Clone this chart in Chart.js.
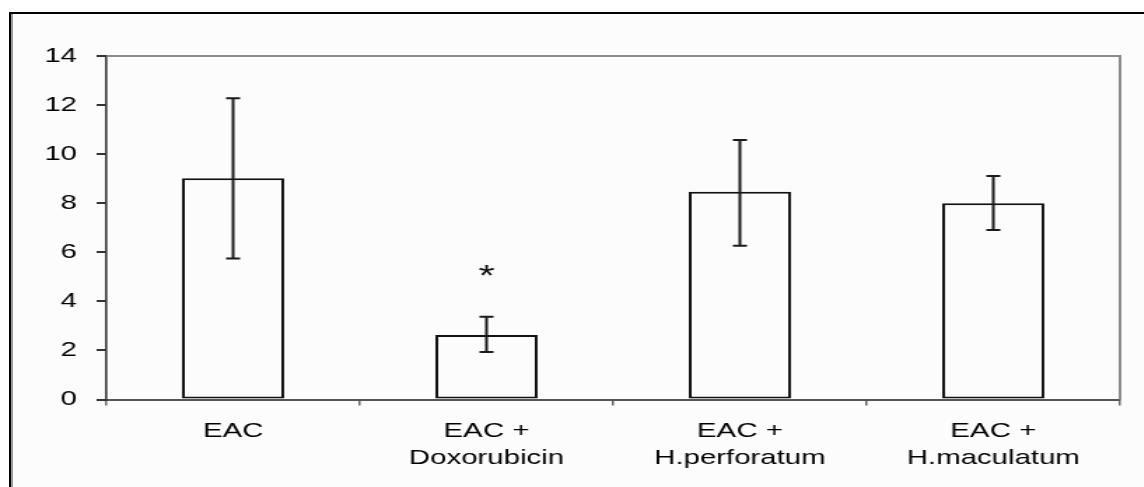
<!DOCTYPE html>
<html>
<head>
<meta charset="utf-8">
<script src="https://cdn.jsdelivr.net/npm/chart.js@4/dist/chart.umd.min.js"></script>
<style>
  html, body { margin: 0; padding: 0; background: #ffffff; width: 1144px; height: 487px; overflow: hidden; }
  .frame { position: absolute; left: 9px; top: 12px; width: 1160px; height: 500px;
           border-top: 2px solid #000; border-left: 2px solid #000; background: #fcfcfc;
           box-shadow: inset 2px 0 0 #9a9a9a; }
  .wrap { position: absolute; left: 0; top: 0; width: 817px; height: 487px;
          transform: scaleX(1.4); transform-origin: 0 0; }
</style>
</head>
<body>
<div class="frame"></div>
<div class="wrap"><canvas id="c" width="817" height="487"></canvas></div>
<script>
// ---- data ----
const categories = [["EAC"], ["EAC +", "Doxorubicin"], ["EAC +", "H.perforatum"], ["EAC +", "H.maculatum"]];
const means      = [9.02, 2.63, 8.47, 8.0];
const errUpper   = [12.28, 3.37, 10.58, 9.11];
const errLower   = [5.75, 1.94, 6.27, 6.91];
const sigMarks   = ["", "*", "", ""];
const sigMarkY   = [null, 4.68, null, null];
const yTicks     = [0, 2, 4, 6, 8, 10, 12, 14];

const FONT = "'Liberation Sans', Arial, sans-serif";

const frameAndErrors = {
  id: 'frameAndErrors',
  beforeDatasetsDraw(chart) {
    const { ctx, chartArea: a } = chart;
    ctx.save();
    ctx.strokeStyle = '#8a8a8a';
    ctx.lineWidth = 2;
    ctx.beginPath();
    ctx.moveTo(a.left, a.top);
    ctx.lineTo(a.right, a.top);
    ctx.lineTo(a.right, a.bottom);
    ctx.stroke();
    ctx.restore();
  },
  afterDatasetsDraw(chart) {
    const { ctx, scales: { x, y } } = chart;
    ctx.save();
    ctx.strokeStyle = '#1a1a1a';
    ctx.lineWidth = 2;
    const cap = 5;
    for (let i = 0; i < means.length; i++) {
      const px = x.getPixelForValue(i);
      const yt = y.getPixelForValue(errUpper[i]);
      const yb = y.getPixelForValue(errLower[i]);
      ctx.beginPath();
      ctx.moveTo(px, yt); ctx.lineTo(px, yb);
      ctx.moveTo(px - cap, yt); ctx.lineTo(px + cap, yt);
      ctx.moveTo(px - cap, yb); ctx.lineTo(px + cap, yb);
      ctx.stroke();
      if (sigMarks[i]) {
        ctx.fillStyle = '#111';
        ctx.font = '30px ' + FONT;
        ctx.textAlign = 'center';
        ctx.textBaseline = 'alphabetic';
        ctx.fillText(sigMarks[i], px, y.getPixelForValue(sigMarkY[i]));
      }
    }
    ctx.restore();
  }
};

new Chart(document.getElementById('c'), {
  type: 'bar',
  data: {
    labels: categories,
    datasets: [{
      data: means,
      backgroundColor: '#fcfcfc',
      borderColor: '#111',
      borderWidth: 2,
      borderSkipped: false,
      categoryPercentage: 1.0,
      barPercentage: 0.403
    }]
  },
  options: {
    responsive: false,
    animation: false,
    devicePixelRatio: 1,
    layout: { padding: { left: 0, right: 17, top: 56, bottom: 0 } },
    plugins: { legend: { display: false }, tooltip: { enabled: false }, title: { display: false } },
    scales: {
      x: {
        grid: { display: true, drawOnChartArea: false, drawTicks: true, tickLength: 6, color: '#666', lineWidth: 1.5, offset: true },
        border: { display: true, color: '#555', width: 2 },
        ticks: { color: '#000', font: { family: FONT, size: 21, lineHeight: 1.28 }, padding: 12, maxRotation: 0, autoSkip: false },
        afterFit(s) { s.height = 87.5; }
      },
      y: {
        min: 0, max: 14,
        afterBuildTicks(s) { s.ticks = yTicks.map(v => ({ value: v })); },
        grid: { display: true, drawOnChartArea: false, drawTicks: true, tickLength: 7, color: '#333', lineWidth: 2 },
        border: { display: true, color: '#333', width: 1.6 },
        ticks: { color: '#000', font: { family: FONT, size: 21 }, padding: 14 },
        afterFit(s) { s.width = 76; }
      }
    }
  },
  plugins: [frameAndErrors]
});
</script>
</body>
</html>
